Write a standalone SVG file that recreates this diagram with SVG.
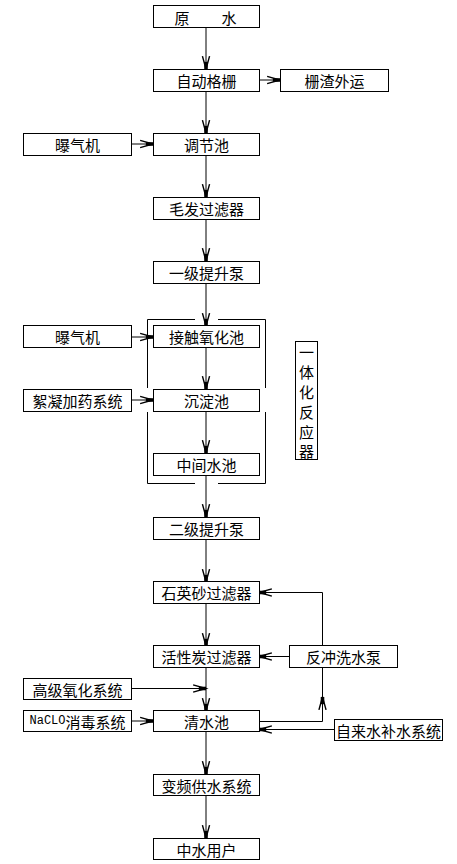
<svg xmlns="http://www.w3.org/2000/svg" width="457" height="864" viewBox="0 0 457 864">
<style>
.b{fill:#fff;stroke:#000;stroke-width:1}
.t{font-family:"Noto Sans CJK SC","Noto Sans",sans-serif;font-size:15px;fill:#000;text-anchor:middle;dominant-baseline:central}
.c{fill:none;stroke:#000;stroke-width:1}
.m{font-family:"Liberation Mono",monospace;font-size:12px}
</style>
<defs>
<marker id="a" markerUnits="userSpaceOnUse" markerWidth="20" markerHeight="20" refX="0" refY="0" viewBox="-12 -6 14 12" orient="auto" overflow="visible">
<path d="M-9,-2.5 L0,0 L-9,2.5" fill="none" stroke="#000" stroke-width="1"/>
<path d="M-5,0 L0,0" stroke="#000" stroke-width="2.5"/>
</marker>
</defs>
<rect width="457" height="864" fill="#fff"/>
<g id="connectors">
<path class="c" d="M206,27 V69" marker-end="url(#a)"/>
<path class="c" d="M259,80 H280" marker-end="url(#a)"/>
<path class="c" d="M206,91 V133" marker-end="url(#a)"/>
<path class="c" d="M131,144 H153" marker-end="url(#a)"/>
<path class="c" d="M206,155 V197" marker-end="url(#a)"/>
<path class="c" d="M206,219 V261" marker-end="url(#a)"/>
<path class="c" d="M206,283 V326" marker-end="url(#a)"/>
<path class="c" d="M131,337 H153" marker-end="url(#a)"/>
<path class="c" d="M206,347 V389" marker-end="url(#a)"/>
<path class="c" d="M131,400 H153" marker-end="url(#a)"/>
<path class="c" d="M206,411 V453" marker-end="url(#a)"/>
<path class="c" d="M206,475 V517" marker-end="url(#a)"/>
<path class="c" d="M206,539 V582" marker-end="url(#a)"/>
<path class="c" d="M206,603 V646" marker-end="url(#a)"/>
<path class="c" d="M322.5,646 V592.5 H259" marker-end="url(#a)"/>
<path class="c" d="M289,656.5 H259" marker-end="url(#a)"/>
<path class="c" d="M206,667 V711" marker-end="url(#a)"/>
<path class="c" d="M131,688.5 H206" marker-end="url(#a)"/>
<path class="c" d="M131,721 H153" marker-end="url(#a)"/>
<path class="c" d="M259,721.5 H322.5 V697" marker-end="url(#a)"/>
<path class="c" d="M322.5,697 V667"/>
<path class="c" d="M334,729.5 H259" marker-end="url(#a)"/>
<path class="c" d="M206,731 V774" marker-end="url(#a)"/>
<path class="c" d="M206,795 V838" marker-end="url(#a)"/>
</g>
<g id="reactor-bracket">
<path class="c" d="M195,319.5 H147.5 V388 M147.5,412 V483.5 H195 M218,483.5 H265.5 V412 M265.5,388 V319.5 H218"/>
</g>
<g id="n1"><rect class="b" x="153.5" y="5.5" width="106" height="22"/><text class="t" y="16.5"><tspan x="182">原</tspan><tspan x="229">水</tspan></text></g>
<g id="n2"><rect class="b" x="153.5" y="69.5" width="106" height="22"/><text class="t" x="206.5" y="80.5">自动格栅</text></g>
<g id="n3"><rect class="b" x="280.5" y="69.5" width="108" height="22"/><text class="t" x="334.5" y="80.5">栅渣外运</text></g>
<g id="n4"><rect class="b" x="153.5" y="133.5" width="106" height="22"/><text class="t" x="206.5" y="144.5">调节池</text></g>
<g id="n5"><rect class="b" x="23.5" y="133.5" width="108" height="22"/><text class="t" x="77.5" y="144.5">曝气机</text></g>
<g id="n6"><rect class="b" x="153.5" y="197.5" width="106" height="22"/><text class="t" x="206.5" y="208.5">毛发过滤器</text></g>
<g id="n7"><rect class="b" x="153.5" y="261.5" width="106" height="22"/><text class="t" x="206.5" y="272.5">一级提升泵</text></g>
<g id="n8"><rect class="b" x="153.5" y="325.5" width="106" height="22"/><text class="t" x="206.5" y="336.5">接触氧化池</text></g>
<g id="n9"><rect class="b" x="23.5" y="325.5" width="108" height="22"/><text class="t" x="77.5" y="336.5">曝气机</text></g>
<g id="n10"><rect class="b" x="153.5" y="389.5" width="106" height="22"/><text class="t" x="206.5" y="400.5">沉淀池</text></g>
<g id="n11"><rect class="b" x="23.5" y="389.5" width="108" height="22"/><text class="t" x="77.5" y="400.5">絮凝加药系统</text></g>
<g id="n12"><rect class="b" x="153.5" y="453.5" width="106" height="22"/><text class="t" x="206.5" y="464.5">中间水池</text></g>
<g id="n13"><rect class="b" x="295.5" y="341.5" width="22" height="118"/><text class="t" x="306.5"><tspan x="306.5" y="351">一</tspan><tspan x="306.5" y="371">体</tspan><tspan x="306.5" y="391">化</tspan><tspan x="306.5" y="411">反</tspan><tspan x="306.5" y="431">应</tspan><tspan x="306.5" y="450">器</tspan></text></g>
<g id="n14"><rect class="b" x="153.5" y="517.5" width="106" height="22"/><text class="t" x="206.5" y="528.5">二级提升泵</text></g>
<g id="n15"><rect class="b" x="153.5" y="581.5" width="106" height="22"/><text class="t" x="206.5" y="592.5">石英砂过滤器</text></g>
<g id="n16"><rect class="b" x="153.5" y="645.5" width="106" height="22"/><text class="t" x="206.5" y="656.5">活性炭过滤器</text></g>
<g id="n17"><rect class="b" x="289.5" y="645.5" width="108" height="22"/><text class="t" x="343.5" y="656.5">反冲洗水泵</text></g>
<g id="n18"><rect class="b" x="23.5" y="678.5" width="108" height="21"/><text class="t" x="77.5" y="689">高级氧化系统</text></g>
<g id="n19"><rect class="b" x="153.5" y="710.5" width="106" height="21"/><text class="t" x="206.5" y="721">清水池</text></g>
<g id="n20"><rect class="b" x="23.5" y="710.5" width="108" height="21"/><text class="t" x="77.5" y="721"><tspan class="m">NaCLO</tspan>消毒系统</text></g>
<g id="n21"><rect class="b" x="334.5" y="719.5" width="108" height="21"/><text class="t" x="388.5" y="730">自来水补水系统</text></g>
<g id="n22"><rect class="b" x="153.5" y="774.5" width="106" height="21"/><text class="t" x="206.5" y="785">变频供水系统</text></g>
<g id="n23"><rect class="b" x="153.5" y="838.5" width="106" height="21"/><text class="t" x="206.5" y="849">中水用户</text></g>
</svg>
